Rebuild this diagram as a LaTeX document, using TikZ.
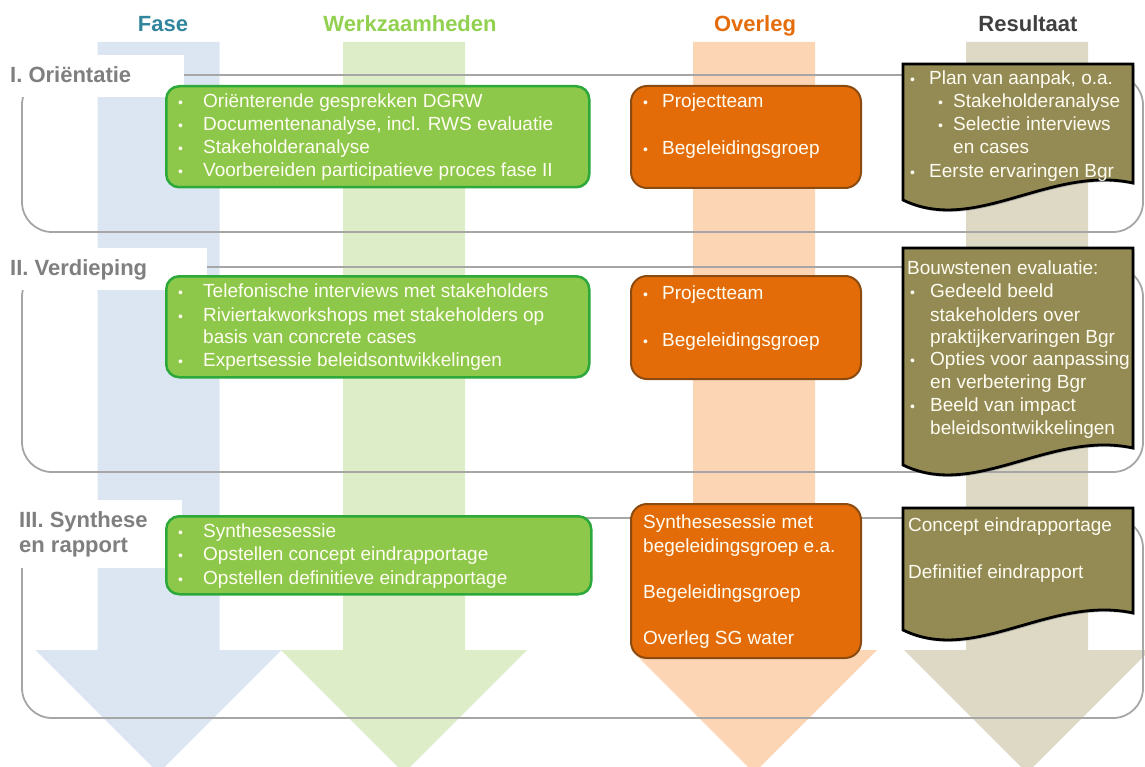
\documentclass[tikz,border=0pt]{standalone}
\usepackage{fontspec}
\setmainfont{Liberation Sans}
\usetikzlibrary{shadows}
\definecolor{faseC}{HTML}{31859C}
\definecolor{werkC}{HTML}{92D050}
\definecolor{overC}{HTML}{E46C0A}
\definecolor{resC}{HTML}{404040}
\definecolor{arBlue}{HTML}{DCE6F2}
\definecolor{arGreen}{HTML}{DDEDC8}
\definecolor{arOrange}{HTML}{FCD5B5}
\definecolor{arTan}{HTML}{DDD9C4}
\definecolor{panelC}{HTML}{A6A6A6}
\definecolor{labelC}{HTML}{7F7F7F}
\definecolor{gFill}{HTML}{8DC84A}
\definecolor{gDraw}{HTML}{2DA83A}
\definecolor{oFill}{HTML}{E36C09}
\definecolor{oDraw}{HTML}{8A4A10}
\definecolor{dFill}{HTML}{948A54}
\definecolor{txtC}{HTML}{FFFDF2}
\newcommand{\tl}[4]{\node[txt] (#1) at (#2,#3) {#4};}
\newcommand{\bl}[3]{\node[bul] (#1) at (#2,#3) {•};}
\newcommand{\docpath}[4]{\path[doc] (#1,#2) -- (#3,#2) -- (#3,#4-17) .. controls (#3-83,#4-35) and (#1+72,#4+35) .. (#1,#4) -- cycle;}
\begin{document}
\begin{tikzpicture}[x=1pt,y=-1pt,
  hdr/.style={font=\fontsize{22}{26}\selectfont\bfseries, anchor=base, inner sep=0pt},
  phase/.style={font=\fontsize{22}{25}\selectfont\bfseries, text=labelC, anchor=base west, inner sep=0pt},
  txt/.style={font=\fontsize{19}{23}\selectfont, text=txtC, anchor=base west, inner sep=0pt},
  bul/.style={font=\fontsize{14}{16}\selectfont, text=txtC, anchor=base west, inner sep=0pt},
  panel/.style={draw=panelC, line width=1.8pt, rounded corners=30pt},
  gbox/.style={fill=gFill, draw=gDraw, line width=2.5pt, rounded corners=13pt, anchor=north west, inner sep=0pt},
  obox/.style={fill=oFill, draw=oDraw, line width=2pt, rounded corners=16pt, anchor=north west, inner sep=0pt},
  doc/.style={fill=dFill, draw=black, line width=2.8pt, drop shadow={opacity=0.45, shadow xshift=1.5pt, shadow yshift=-2pt}},
  downarrow/.pic={\path[pic actions] (-61,42) -- (61,42) -- (61,650) -- (123,650) -- (0,773) -- (-123,650) -- (-61,650) -- cycle;}
]
\useasboundingbox (0,0) rectangle (1145,767);
% big background arrows
\pic[fill=arBlue] at (158.5,0) {downarrow};
\pic[fill=arGreen] at (404,0) {downarrow};
\pic[fill=arOrange] at (754,0) {downarrow};
\pic[fill=arTan] at (1027,0) {downarrow};
% headers
\node[hdr, text=faseC] (hFase) at (163,32) {Fase};
\node[hdr, text=werkC] (hWerk) at (410,32) {Werkzaamheden};
\node[hdr, text=overC] (hOver) at (755,32) {Overleg};
\node[hdr, text=resC] (hRes) at (1028,32) {Resultaat};
% phase panels
\draw[panel] (22,75) rectangle (1143,232);
\draw[panel] (22,267) rectangle (1143,472);
\draw[panel] (22,518) rectangle (1143,718);
\fill[white] (0,55) rectangle (184,97);
\fill[white] (0,248) rectangle (207,290);
\fill[white] (0,500) rectangle (182,568);
\node[phase] (pI) at (10,83) {I. Oriëntatie};
\node[phase] (pII) at (10,276) {II. Verdieping};
\node[phase] (pIIIa) at (19,527) {III. Synthese};
\node[phase] (pIIIb) at (19,552) {en rapport};
% green boxes
\node[gbox, minimum width=423pt, minimum height=101pt] (g1) at (165,85) {};
\node[gbox, minimum width=423pt, minimum height=101pt] (g2) at (165,275) {};
\node[gbox, minimum width=425pt, minimum height=78pt] (g3) at (165,515) {};
\bl{g1b1}{178}{108}\tl{g1t1}{203}{108}{Oriënterende gesprekken DGRW}
\bl{g1b2}{178}{131}\tl{g1t2}{203}{131}{Documentenanalyse, incl. RWS evaluatie}
\bl{g1b3}{178}{154}\tl{g1t3}{203}{154}{Stakeholderanalyse}
\bl{g1b4}{178}{177}\tl{g1t4}{203}{177}{Voorbereiden participatieve proces fase II}
\bl{g2b1}{178}{298}\tl{g2t1}{203}{298}{Telefonische interviews met stakeholders}
\bl{g2b2}{178}{321}\tl{g2t2}{203}{321}{Riviertakworkshops met stakeholders op}
\tl{g2t3}{203}{343}{basis van concrete cases}
\bl{g2b4}{178}{366}\tl{g2t4}{203}{366}{Expertsessie beleidsontwikkelingen}
\bl{g3b1}{178}{537}\tl{g3t1}{203}{537}{Synthesesessie}
\bl{g3b2}{178}{560}\tl{g3t2}{203}{560}{Opstellen concept eindrapportage}
\bl{g3b3}{178}{584}\tl{g3t3}{203}{584}{Opstellen definitieve eindrapportage}
% orange boxes
\node[obox, minimum width=230pt, minimum height=102pt] (o1) at (630,85) {};
\node[obox, minimum width=230pt, minimum height=103pt] (o2) at (630,275) {};
\node[obox, minimum width=230pt, minimum height=154pt] (o3) at (630,503) {};
\bl{o1b1}{643}{108}\tl{o1t1}{662}{108}{Projectteam}
\bl{o1b2}{643}{155}\tl{o1t2}{662}{155}{Begeleidingsgroep}
\bl{o2b1}{643}{299}\tl{o2t1}{662}{299}{Projectteam}
\bl{o2b2}{643}{346}\tl{o2t2}{662}{346}{Begeleidingsgroep}
\tl{o3t1}{643}{528}{Synthesesessie met}
\tl{o3t2}{643}{552}{begeleidingsgroep e.a.}
\tl{o3t3}{643}{598}{Begeleidingsgroep}
\tl{o3t4}{643}{644}{Overleg SG water}
% result documents
\docpath{903}{64}{1133}{200}
\docpath{903}{248}{1133}{465}
\docpath{903}{508}{1133}{630}
\bl{d1b1}{910}{85}\tl{d1t1}{929}{85}{Plan van aanpak, o.a.}
\bl{d1b2}{938}{108}\tl{d1t2}{953}{108}{Stakeholderanalyse}
\bl{d1b3}{938}{131}\tl{d1t3}{953}{131}{Selectie interviews}
\tl{d1t4}{953}{154}{en cases}
\bl{d1b5}{910}{178}\tl{d1t5}{929}{178}{Eerste ervaringen Bgr}
\tl{d2t0}{907}{275}{Bouwstenen evaluatie:}
\bl{d2b1}{910}{298}\tl{d2t1}{930}{298}{Gedeeld beeld}
\tl{d2t2}{930}{321}{stakeholders over}
\tl{d2t3}{930}{343}{praktijkervaringen Bgr}
\bl{d2b4}{910}{365}\tl{d2t4}{930}{365}{Opties voor aanpassing}
\tl{d2t5}{930}{388}{en verbetering Bgr}
\bl{d2b6}{910}{411}\tl{d2t6}{930}{411}{Beeld van impact}
\tl{d2t7}{930}{434}{beleidsontwikkelingen}
\tl{d3t1}{908}{531}{Concept eindrapportage}
\tl{d3t2}{908}{578}{Definitief eindrapport}
\end{tikzpicture}
\end{document}
